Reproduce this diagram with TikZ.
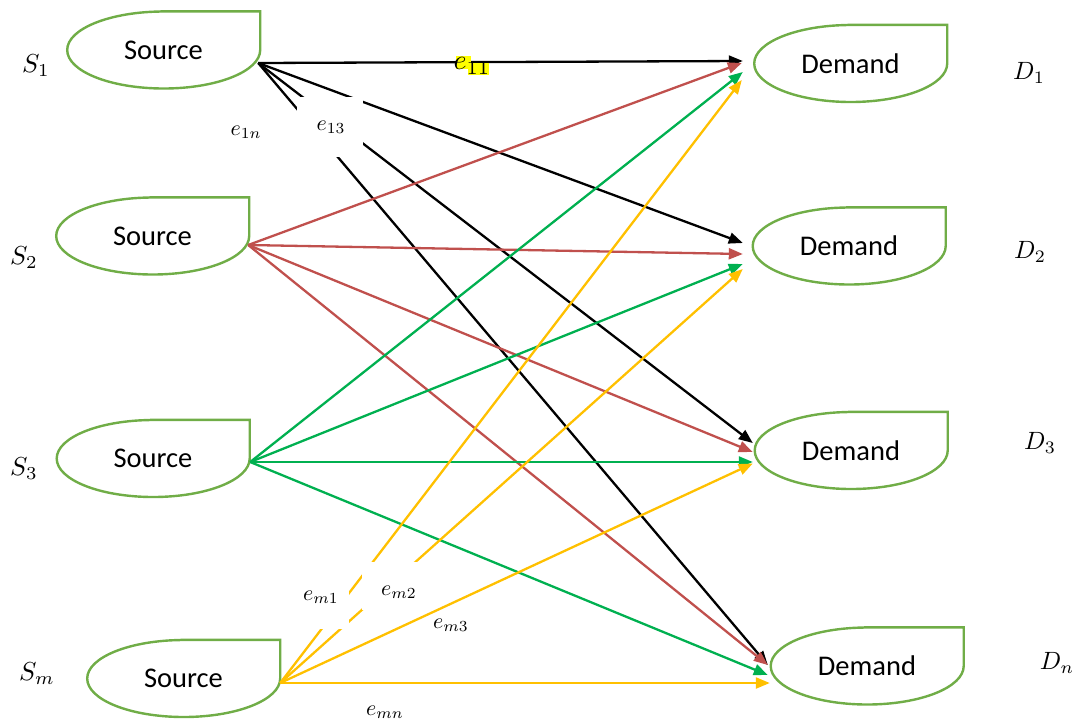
\documentclass[tikz,border=0pt]{standalone}
\usepackage[no-math]{fontspec}
\setmainfont{Carlito}
\usetikzlibrary{arrows.meta,calc}
\definecolor{shapegreen}{HTML}{70AD47}
\definecolor{cred}{HTML}{C0504D}
\definecolor{cgreen}{HTML}{00B050}
\definecolor{cyel}{HTML}{FFC000}
\definecolor{hilite}{HTML}{FFFF00}
\newcommand{\mylabmath}[2]{\scalebox{#1}{$#2$}}
\begin{document}
\begin{tikzpicture}[x=1pt,y=-1pt,
  tear/.style={minimum width=193pt,minimum height=77pt,inner sep=0pt,font=\fontsize{28.5}{30}\selectfont},
  tearline/.style={draw=shapegreen,line width=2.4pt},
  flow/.style={line width=2.3pt,-{Triangle[length=14pt,width=11pt]}},
  lab/.style={inner sep=0pt},
  gap/.style={fill=white}
]
\useasboundingbox (0,0) rectangle (1076,721);

% nodes
\node[tear] (s1) at (163.5,50) {Source};
\node[tear] (s2) at (152.5,236) {Source};
\node[tear] (s3) at (153,458.5) {Source};
\node[tear] (sm) at (183.5,678.5) {Source};
\node[tear] (d1) at (850.5,63.5) {Demand};
\node[tear] (d2) at (849,246) {Demand};
\node[tear] (d3) at (851,450.5) {Demand};
\node[tear] (dn) at (867,666) {Demand};

\foreach \n in {s1,s2,s3,sm,d1,d2,d3,dn}
  \draw[tearline] (\n.north) -- (\n.north east) -- (\n.east)
    arc[start angle=0,end angle=180,x radius=96.5,y radius=38.5]
    arc[start angle=180,end angle=270,x radius=96.5,y radius=38.5] -- cycle;

% connector end points
\coordinate (o1) at ($(s1.east)+(-2,13)$);
\coordinate (o2) at ($(s2.east)+(-1,9)$);
\coordinate (o3) at ($(s3.east)+(0.5,3.5)$);
\coordinate (om) at ($(sm.east)+(0,4.5)$);

\coordinate (d1k) at ($(d1.west)+(-11,-2.5)$);
\coordinate (d1r) at ($(d1.west)+(-12,-0.5)$);
\coordinate (d1g) at ($(d1.west)+(-11,8.5)$);
\coordinate (d1y) at ($(d1.west)+(-12,16.5)$);
\coordinate (d2k) at ($(d2.west)+(-9.5,-3)$);
\coordinate (d2r) at ($(d2.west)+(-9.5,8)$);
\coordinate (d2g) at ($(d2.west)+(-9.5,18)$);
\coordinate (d2y) at ($(d2.west)+(-9.5,23)$);
\coordinate (d3k) at ($(d3.west)+(-1.5,-7.5)$);
\coordinate (d3r) at ($(d3.west)+(-1.5,1.5)$);
\coordinate (d3g) at ($(d3.west)+(-1.5,11.5)$);
\coordinate (d3y) at ($(d3.west)+(-1.5,13)$);
\coordinate (dnk) at ($(dn.west)+(-2.5,-1)$);
\coordinate (dnr) at ($(dn.west)+(-2.5,-1)$);
\coordinate (dng) at ($(dn.west)+(-2.5,9)$);
\coordinate (dny) at ($(dn.west)+(-0.5,17)$);

% connectors
\foreach \d in {d1k,d2k,d3k,dnk} \draw[flow,black] (o1) -- (\d);
\foreach \d in {d1r,d2r,d3r,dnr} \draw[flow,cred] (o2) -- (\d);
\foreach \d in {d1g,d2g,d3g,dng} \draw[flow,cgreen] (o3) -- (\d);
\foreach \d in {d1y,d2y,d3y,dny} \draw[flow,cyel] (om) -- (\d);

% white label boxes that break the lines
\fill[gap] (297,97) rectangle (363,157);
\fill[gap] (300,590) rectangle (349,629);
\fill[gap] (362,562) rectangle (430,610);

% highlight behind e11
\fill[hilite] (456,56) rectangle (471,69);
\fill[hilite] (468,63) rectangle (489,75);

% labels
\node[lab] (ls1) at (36,66) {\mylabmath{2.6}{S_1}};
\node[lab] (ls2) at (24,258) {\mylabmath{2.6}{S_2}};
\node[lab] (ls3) at (24,469) {\mylabmath{2.6}{S_3}};
\node[lab] (lsm) at (37,674) {\mylabmath{2.6}{S_m}};
\node[lab] (ld1) at (1029,73) {\mylabmath{2.5}{D_1}};
\node[lab] (ld2) at (1030,252) {\mylabmath{2.5}{D_2}};
\node[lab] (ld3) at (1040,443) {\mylabmath{2.5}{D_3}};
\node[lab] (ldn) at (1057,663) {\mylabmath{2.5}{D_n}};

\node[lab] (e11) at (472,66) {\mylabmath{2.8}{e_{11}}};
\node[lab] (e1n) at (246,132) {\mylabmath{2.2}{e_{1n}}};
\node[lab] (e13) at (331,127) {\mylabmath{2.2}{e_{13}}};
\node[lab] (em1) at (321,597) {\mylabmath{2.2}{e_{m1}}};
\node[lab] (em2) at (399,592) {\mylabmath{2.2}{e_{m2}}};
\node[lab] (em3) at (451,625) {\mylabmath{2.2}{e_{m3}}};
\node[lab] (emn) at (385,712) {\mylabmath{2.2}{e_{mn}}};
\end{tikzpicture}
\end{document}
